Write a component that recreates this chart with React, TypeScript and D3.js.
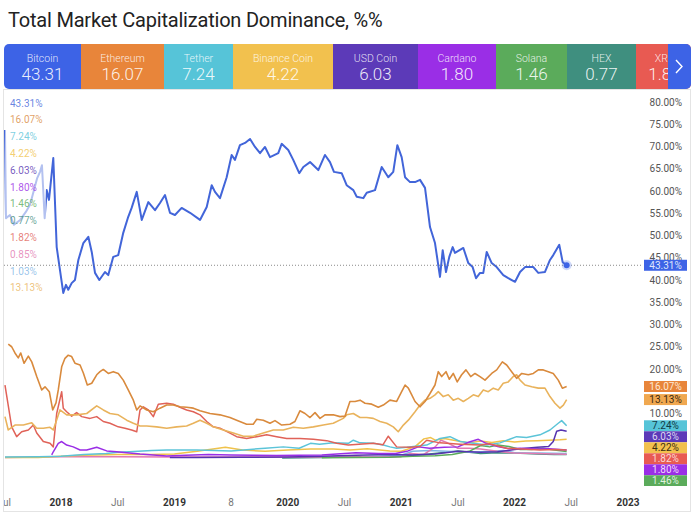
import React from 'react';
import * as d3 from 'd3';

type P = [number, number];

const titleText = 'Total Market Capitalization Dominance, %%';
const legendNames = ['Bitcoin', 'Ethereum', 'Tether', 'Binance Coin', 'USD Coin', 'Cardano', 'Solana', 'HEX', 'XRP'];
const legendValues = ['43.31', '16.07', '7.24', '4.22', '6.03', '1.80', '1.46', '0.77', '1.82'];
const legendColors = ['#3d63e6', '#e8853a', '#56c4d8', '#f2c14e', '#5c3ab8', '#9a2ee6', '#5bab5b', '#3f8f7f', '#e85a52'];

const xTickYears = [2017.5, 2018, 2018.5, 2019, 2019.5, 2020, 2020.5, 2021, 2021.5, 2022, 2022.5, 2023];
const xTickLabels = ['Jul', '2018', 'Jul', '2019', '8', '2020', 'Jul', '2021', 'Jul', '2022', 'Jul', '2023'];
const xTickBold = [false, true, false, true, false, true, false, true, false, true, false, true];
const yTicks = d3.range(0, 81, 5);

const btc: P[] = [
  [2017.506, 73.7], [2017.515, 53.9], [2017.55, 54.6], [2017.585, 52.4], [2017.64, 53.5], [2017.69, 55.3], [2017.727, 56.9],
  [2017.79, 62.9], [2017.815, 64.3], [2017.832, 65.8], [2017.856, 53.9], [2017.874, 60.2], [2017.894, 58.0], [2017.932, 67.4],
  [2017.962, 47.4], [2017.991, 42.2], [2018.02, 37.1], [2018.044, 38.9], [2018.064, 37.8], [2018.094, 39.3], [2018.123, 40.0],
  [2018.153, 44.5], [2018.197, 48.3], [2018.241, 49.7], [2018.271, 46.3], [2018.30, 41.6], [2018.338, 40.0], [2018.388, 41.8],
  [2018.417, 41.1], [2018.461, 45.2], [2018.505, 45.6], [2018.549, 50.6], [2018.593, 54.2], [2018.623, 56.2], [2018.668, 59.8],
  [2018.712, 53.5], [2018.77, 57.5], [2018.829, 55.7], [2018.873, 57.3], [2018.917, 59.1], [2018.961, 55.1], [2019.005, 54.6],
  [2019.064, 56.2], [2019.138, 55.1], [2019.226, 53.5], [2019.285, 56.4], [2019.329, 61.3], [2019.358, 59.8], [2019.402, 58.4],
  [2019.461, 63.1], [2019.505, 68.1], [2019.534, 67.0], [2019.578, 70.3], [2019.623, 70.8], [2019.667, 71.7], [2019.711, 69.9],
  [2019.755, 68.5], [2019.799, 69.9], [2019.843, 67.6], [2019.916, 68.5], [2019.946, 70.6], [2020.004, 69.2], [2020.048, 67.0],
  [2020.101, 64.0], [2020.137, 65.4], [2020.196, 66.5], [2020.269, 64.7], [2020.328, 68.1], [2020.372, 66.5], [2020.407, 64.3],
  [2020.475, 64.0], [2020.519, 61.3], [2020.578, 60.2], [2020.608, 58.7], [2020.666, 58.4], [2020.696, 59.6], [2020.769, 60.2],
  [2020.828, 65.4], [2020.886, 63.1], [2020.93, 64.3], [2020.966, 70.3], [2021.004, 67.6], [2021.034, 63.1], [2021.078, 62.0],
  [2021.122, 62.0], [2021.166, 62.5], [2021.21, 60.7], [2021.254, 51.9], [2021.298, 48.3], [2021.342, 40.7], [2021.366, 46.7],
  [2021.395, 41.8], [2021.424, 45.2], [2021.454, 47.4], [2021.474, 46.1], [2021.548, 47.2], [2021.592, 43.8], [2021.63, 42.9],
  [2021.66, 40.4], [2021.695, 41.6], [2021.724, 41.6], [2021.754, 46.3], [2021.798, 43.8], [2021.842, 42.9], [2021.9, 41.1],
  [2021.944, 40.4], [2022.004, 39.6], [2022.048, 41.8], [2022.092, 42.9], [2022.165, 42.9], [2022.209, 41.6], [2022.268, 41.8],
  [2022.312, 44.5], [2022.341, 45.6], [2022.394, 47.9], [2022.424, 44.0], [2022.459, 43.31],
];

const eth: P[] = [
  [2017.535, 25.6], [2017.565, 25.0], [2017.594, 23.6], [2017.623, 22.5], [2017.645, 23.6], [2017.674, 21.3], [2017.712, 22.9],
  [2017.742, 21.6], [2017.786, 18.3], [2017.83, 15.3], [2017.859, 16.0], [2017.897, 14.9], [2017.927, 10.8], [2017.956, 12.4],
  [2017.976, 15.3], [2018.006, 20.5], [2018.035, 22.4], [2018.064, 23.1], [2018.094, 22.8], [2018.123, 21.3], [2018.168, 20.9],
  [2018.197, 19.1], [2018.232, 16.4], [2018.271, 16.8], [2018.315, 18.7], [2018.344, 19.4], [2018.373, 19.9], [2018.417, 19.0],
  [2018.461, 19.4], [2018.505, 19.0], [2018.549, 17.5], [2018.593, 15.3], [2018.638, 13.0], [2018.668, 10.8], [2018.697, 11.7],
  [2018.756, 10.8], [2018.814, 10.4], [2018.873, 11.2], [2018.932, 11.9], [2018.99, 11.9], [2019.049, 11.5], [2019.108, 11.4],
  [2019.167, 11.2], [2019.226, 10.6], [2019.314, 10.0], [2019.402, 9.7], [2019.49, 9.1], [2019.549, 8.5], [2019.637, 7.6],
  [2019.695, 7.6], [2019.726, 8.7], [2019.784, 8.5], [2019.843, 7.8], [2019.887, 8.4], [2019.946, 7.4], [2020.019, 7.6],
  [2020.063, 8.2], [2020.107, 10.6], [2020.152, 10.0], [2020.196, 9.1], [2020.24, 10.2], [2020.284, 8.9], [2020.328, 9.7],
  [2020.401, 9.7], [2020.46, 9.3], [2020.504, 9.4], [2020.548, 12.7], [2020.593, 12.7], [2020.637, 13.0], [2020.681, 12.3],
  [2020.74, 12.1], [2020.798, 11.4], [2020.842, 11.9], [2020.901, 13.0], [2020.96, 12.7], [2021.004, 14.9], [2021.034, 16.4],
  [2021.063, 15.7], [2021.093, 14.2], [2021.122, 12.7], [2021.166, 11.5], [2021.21, 12.7], [2021.254, 14.5], [2021.298, 16.4],
  [2021.327, 19.4], [2021.357, 18.3], [2021.395, 19.4], [2021.424, 17.7], [2021.459, 19.0], [2021.494, 17.1], [2021.533, 18.7],
  [2021.571, 19.8], [2021.613, 18.3], [2021.651, 19.0], [2021.695, 18.3], [2021.739, 17.5], [2021.798, 19.0], [2021.842, 19.8],
  [2021.892, 21.6], [2021.93, 20.9], [2021.974, 19.4], [2022.018, 17.9], [2022.063, 19.0], [2022.121, 18.7], [2022.165, 19.0],
  [2022.209, 19.8], [2022.253, 19.8], [2022.297, 19.4], [2022.341, 19.0], [2022.385, 17.5], [2022.421, 15.7], [2022.459, 16.07],
];

const others: P[] = [
  [2017.506, 9.3], [2017.535, 6.3], [2017.594, 7.4], [2017.668, 7.4], [2017.742, 7.9], [2017.786, 6.7], [2017.844, 6.7],
  [2017.903, 6.9], [2017.932, 6.3], [2017.991, 10.8], [2018.05, 9.7], [2018.138, 9.7], [2018.227, 10.0], [2018.315, 11.7],
  [2018.373, 10.8], [2018.432, 10.0], [2018.505, 9.7], [2018.579, 8.5], [2018.638, 7.8], [2018.697, 7.2], [2018.756, 7.2],
  [2018.844, 7.0], [2018.932, 6.7], [2019.02, 7.0], [2019.108, 7.2], [2019.167, 7.8], [2019.226, 8.5], [2019.285, 7.8],
  [2019.343, 7.0], [2019.431, 6.3], [2019.52, 5.6], [2019.608, 4.9], [2019.695, 4.9], [2019.784, 5.6], [2019.872, 6.3],
  [2019.96, 6.3], [2020.048, 6.9], [2020.137, 6.7], [2020.225, 7.0], [2020.313, 7.4], [2020.401, 7.8], [2020.489, 8.9],
  [2020.519, 9.7], [2020.578, 10.0], [2020.637, 9.1], [2020.696, 9.1], [2020.754, 8.9], [2020.813, 8.2], [2020.872, 7.8],
  [2020.93, 7.0], [2020.974, 5.9], [2021.019, 7.4], [2021.063, 8.5], [2021.122, 10.4], [2021.166, 11.9], [2021.21, 13.0],
  [2021.254, 13.4], [2021.298, 14.2], [2021.327, 14.9], [2021.371, 13.8], [2021.415, 14.2], [2021.459, 13.0], [2021.503, 13.4],
  [2021.548, 12.7], [2021.592, 13.4], [2021.636, 14.2], [2021.68, 13.8], [2021.724, 15.3], [2021.768, 14.9], [2021.812, 15.7],
  [2021.856, 15.3], [2021.9, 16.8], [2021.944, 17.1], [2021.988, 18.3], [2022.018, 18.7], [2022.048, 17.5], [2022.092, 16.4],
  [2022.151, 16.0], [2022.209, 15.7], [2022.268, 15.7], [2022.312, 13.8], [2022.356, 12.3], [2022.4, 11.2], [2022.43, 11.9],
  [2022.459, 13.13],
];

const xrp: P[] = [
  [2017.506, 16.4], [2017.565, 7.0], [2017.609, 4.8], [2017.653, 5.9], [2017.712, 6.3], [2017.756, 7.4], [2017.786, 5.6],
  [2017.844, 3.7], [2017.903, 3.3], [2017.932, 2.5], [2017.962, 10.0], [2018.006, 14.9], [2018.02, 11.2], [2018.05, 10.4],
  [2018.094, 9.4], [2018.138, 10.2], [2018.183, 9.3], [2018.256, 8.9], [2018.315, 9.3], [2018.373, 8.2], [2018.432, 7.8],
  [2018.505, 7.0], [2018.564, 6.7], [2018.623, 6.3], [2018.668, 5.9], [2018.697, 10.8], [2018.726, 11.5], [2018.77, 10.8],
  [2018.814, 9.3], [2018.858, 12.1], [2018.932, 12.3], [2018.99, 12.1], [2019.049, 11.4], [2019.108, 10.8], [2019.167, 10.4],
  [2019.226, 9.7], [2019.285, 8.2], [2019.343, 7.0], [2019.402, 6.7], [2019.49, 5.6], [2019.549, 4.8], [2019.637, 4.4],
  [2019.726, 4.8], [2019.814, 5.2], [2019.902, 4.8], [2019.99, 4.4], [2020.107, 4.4], [2020.225, 4.2], [2020.343, 3.9],
  [2020.431, 3.3], [2020.534, 2.9], [2020.754, 3.3], [2020.84, 3.0], [2020.886, 4.9], [2020.96, 2.5], [2021.078, 2.4],
  [2021.166, 2.6], [2021.225, 4.0], [2021.342, 3.4], [2021.519, 3.1], [2021.695, 2.9], [2021.78, 3.2], [2021.93, 2.2],
  [2022.224, 1.8], [2022.356, 1.9], [2022.459, 1.82],
];

const ada: P[] = [
  [2017.918, 0.7], [2017.932, 1.4], [2017.976, 3.3], [2018.006, 3.7], [2018.05, 2.9], [2018.108, 2.5], [2018.168, 1.8],
  [2018.227, 1.8], [2018.315, 2.4], [2018.403, 1.6], [2018.491, 1.4], [2018.579, 1.2], [2018.697, 0.9], [2018.814, 0.7],
  [2018.932, 0.45], [2019.1, 0.6], [2019.3, 0.8], [2019.5, 0.7], [2019.7, 0.6], [2019.9, 0.55], [2020.1, 0.6], [2020.3, 0.7],
  [2020.5, 1.0], [2020.6, 1.2], [2020.8, 1.0], [2020.95, 1.0], [2021.05, 1.5], [2021.15, 2.5], [2021.25, 2.2], [2021.38, 2.4],
  [2021.5, 2.5], [2021.6, 3.6], [2021.68, 4.2], [2021.75, 3.3], [2021.85, 2.6], [2021.95, 2.1], [2022.05, 2.2], [2022.2, 2.0],
  [2022.3, 2.1], [2022.4, 1.9], [2022.459, 1.80],
];

const usdt: P[] = [
  [2017.506, 0.2], [2017.8, 0.3], [2018.0, 0.4], [2018.2, 0.8], [2018.4, 1.0], [2018.5, 1.3], [2018.6, 1.4], [2018.8, 1.7],
  [2018.932, 1.8], [2019.2, 1.8], [2019.5, 1.6], [2019.8, 2.2], [2019.96, 2.5], [2020.1, 2.2], [2020.2, 3.3], [2020.28, 3.1],
  [2020.4, 3.4], [2020.534, 3.3], [2020.578, 4.0], [2020.637, 3.4], [2020.754, 3.3], [2020.842, 2.9], [2020.901, 2.5],
  [2020.96, 2.2], [2021.05, 2.4], [2021.225, 2.9], [2021.342, 4.4], [2021.43, 4.8], [2021.519, 3.7], [2021.636, 3.3],
  [2021.754, 2.9], [2021.871, 3.4], [2022.018, 4.8], [2022.106, 4.6], [2022.224, 5.2], [2022.312, 6.3], [2022.385, 7.8],
  [2022.415, 8.4], [2022.459, 7.24],
];

const usdc: P[] = [
  [2018.96, 0.1], [2019.2, 0.1], [2019.6, 0.15], [2020.0, 0.2], [2020.3, 0.4], [2020.6, 0.6], [2020.9, 0.8], [2021.1, 0.7],
  [2021.3, 0.9], [2021.5, 1.5], [2021.7, 1.3], [2021.85, 1.4], [2022.0, 1.9], [2022.1, 2.2], [2022.2, 2.4], [2022.3, 2.6],
  [2022.341, 3.7], [2022.371, 6.0], [2022.41, 6.3], [2022.459, 6.03],
];

const bnb: P[] = [
  [2017.506, 0.1], [2017.8, 0.1], [2018.0, 0.4], [2018.2, 0.6], [2018.5, 0.8], [2018.8, 0.8], [2019.0, 0.9], [2019.2, 1.5],
  [2019.45, 2.4], [2019.6, 1.8], [2019.8, 1.5], [2020.0, 1.8], [2020.2, 2.0], [2020.4, 2.0], [2020.55, 1.8], [2020.7, 2.1],
  [2020.9, 1.6], [2021.0, 1.5], [2021.12, 2.5], [2021.2, 4.3], [2021.26, 4.6], [2021.3, 4.0], [2021.38, 4.4], [2021.5, 3.8],
  [2021.6, 3.4], [2021.7, 3.8], [2021.8, 3.5], [2021.9, 3.9], [2022.0, 3.6], [2022.1, 3.8], [2022.2, 3.9], [2022.3, 4.0],
  [2022.4, 4.1], [2022.459, 4.22],
];

const sol: P[] = [
  [2020.3, 0.05], [2020.6, 0.1], [2020.9, 0.15], [2021.1, 0.4], [2021.3, 0.5], [2021.45, 0.8], [2021.6, 1.5], [2021.7, 2.8],
  [2021.78, 2.5], [2021.85, 2.9], [2021.95, 2.6], [2022.05, 1.9], [2022.15, 1.9], [2022.25, 2.2], [2022.35, 1.8], [2022.459, 1.46],
];

const hex: P[] = [
  [2019.95, 0.02], [2020.3, 0.1], [2020.6, 0.3], [2020.9, 0.3], [2021.1, 0.6], [2021.25, 0.9], [2021.4, 1.3], [2021.5, 1.6],
  [2021.6, 1.3], [2021.7, 1.0], [2021.85, 1.2], [2022.0, 1.1], [2022.2, 0.9], [2022.35, 0.8], [2022.459, 0.77],
];

const doge: P[] = [
  [2017.506, 0.1], [2018.0, 0.3], [2018.5, 0.3], [2019.0, 0.25], [2020.0, 0.2], [2021.0, 0.3], [2021.08, 1.0], [2021.2, 0.8],
  [2021.3, 2.5], [2021.35, 4.0], [2021.4, 3.5], [2021.5, 2.2], [2021.6, 2.2], [2021.7, 2.0], [2021.85, 1.5], [2022.0, 1.1],
  [2022.2, 1.0], [2022.35, 0.9], [2022.459, 0.85],
];

const busd: P[] = [
  [2020.65, 0.3], [2020.8, 0.4], [2021.0, 0.6], [2021.1, 1.5], [2021.25, 1.7], [2021.4, 1.5], [2021.6, 1.3], [2021.8, 1.5],
  [2021.9, 1.7], [2022.0, 1.2], [2022.2, 1.1], [2022.459, 1.03],
];

interface Series { key: string; data: P[]; color: string; last: string; width: number; badgeBg?: string; badgeText?: string; }

const series: Series[] = [
  { key: 'btc', data: btc, color: '#4265d9', last: '43.31', width: 2 },
  { key: 'eth', data: eth, color: '#d98a3d', last: '16.07', width: 1.6, badgeBg: '#e8853a', badgeText: '#fde8d4' },
  { key: 'usdt', data: usdt, color: '#5cc4d8', last: '7.24', width: 1.5, badgeBg: '#56c4d8', badgeText: '#123a44' },
  { key: 'bnb', data: bnb, color: '#f0c24a', last: '4.22', width: 1.5, badgeBg: '#f2c14e', badgeText: '#3a2e10' },
  { key: 'usdc', data: usdc, color: '#5533b0', last: '6.03', width: 1.5, badgeBg: '#5c3ab8', badgeText: '#ddd6f2' },
  { key: 'ada', data: ada, color: '#9a2ee6', last: '1.80', width: 1.5, badgeBg: '#9a2ee6', badgeText: '#f0dcfb' },
  { key: 'sol', data: sol, color: '#5bab5b', last: '1.46', width: 1.5, badgeBg: '#5bab5b', badgeText: '#dff2df' },
  { key: 'hex', data: hex, color: '#3f8f7f', last: '0.77', width: 1.5 },
  { key: 'xrp', data: xrp, color: '#e06258', last: '1.82', width: 1.5, badgeBg: '#e85a52', badgeText: '#fbd9d6' },
  { key: 'doge', data: doge, color: '#e27ab0', last: '0.85', width: 1.5 },
  { key: 'busd', data: busd, color: '#7fb6e6', last: '1.03', width: 1.5 },
  { key: 'others', data: others, color: '#e9b35c', last: '13.13', width: 1.6, badgeBg: '#f0a850', badgeText: '#3a2a10' },
];

const legendWidths = [77, 83, 69, 100, 85, 78, 71, 69, 57];
const FONT = 'Roboto, "Noto Sans", sans-serif';

export default function App() {
  const W = 700, H = 520;
  const plotL = 4, plotR = 643, plotT = 90, plotB = 486;
  const x = d3.scaleLinear().domain([2018, 2023]).range([61, 628]);
  const y = d3.scaleLinear().domain([0, 80]).range([458, 102]);
  const line = d3.line<P>().x(d => x(d[0])).y(d => y(d[1]));

  const drawOrder = ['hex', 'busd', 'doge', 'sol', 'bnb', 'usdt', 'usdc', 'ada', 'xrp', 'others', 'eth', 'btc'];
  const byKey: Record<string, Series> = {};
  series.forEach(s => (byKey[s.key] = s));

  let cx = 4;
  const legendBoxes = legendNames.map((n, i) => {
    const b = { x0: cx, w: legendWidths[i], name: n, value: legendValues[i], color: legendColors[i] };
    cx += legendWidths[i];
    return b;
  });

  const badgeSeries = series.filter(s => s.badgeBg).sort((a, b) => +b.last - +a.last);
  const bh = 11;
  let prev = -Infinity;
  const badges = badgeSeries.map(s => {
    const c = Math.max(y(+s.last), prev + bh);
    prev = c;
    return { s, c };
  });
  const btcLast = btc[btc.length - 1];
  const allBadges = [{ c: y(btcLast[1]) }, ...badges];
  // price-scale labels that lie fully under a badge are hidden, as in the reference
  const visibleTicks = yTicks.filter(t => !allBadges.some(b => Math.abs(b.c - y(t)) < 6));

  return (
    <svg width={W} height={H} style={{ position: 'absolute', left: 0, top: 0, background: '#fff' }} fontFamily={FONT}>
      <defs>
        <clipPath id="plotClip"><rect x={plotL} y={plotT} width={plotR - plotL} height={plotB - plotT} /></clipPath>
        <clipPath id="axisClip"><rect x={plotL} y={488} width={plotR - plotL} height={22} /></clipPath>
        <clipPath id="legendClip"><rect x={4} y={44} width={687} height={45} rx={5} /></clipPath>
        <clipPath id="badgeClip"><rect x={600} y={plotT} width={100} height={plotB - plotT} /></clipPath>
      </defs>
      <text x={8} y={27} fontSize={20} letterSpacing={-0.2} fill="#222" fontFamily={FONT}>{titleText}</text>

      <g clipPath="url(#legendClip)">
        {legendBoxes.map((b, i) => (
          <g key={i}>
            <rect x={b.x0} y={44} width={b.w + 1} height={45} fill={b.color} />
            <text x={b.x0 + b.w / 2} y={62} textAnchor="middle" fontSize={10.5} fontWeight={300} fill="#fff" fillOpacity={0.85}>{b.name}</text>
            <text x={b.x0 + b.w / 2} y={80} textAnchor="middle" fontSize={17} fontWeight={300} fill="#fff" fillOpacity={0.9}>{b.value}</text>
          </g>
        ))}
        <rect x={668} y={44} width={24} height={45} fill="#3d63e6" />
        <path d="M676,60 L682,66.5 L676,73" fill="none" stroke="#fff" strokeWidth={1.4} />
      </g>

      <rect x={3.5} y={89.5} width={687} height={422} fill="none" stroke="#e4e4e4" />

      <g clipPath="url(#plotClip)">
        {drawOrder.map(k => (
          <path key={k} d={line(byKey[k].data) || ''} fill="none" stroke={byKey[k].color}
            strokeWidth={byKey[k].width} strokeLinejoin="round" />
        ))}
      </g>

      <rect x={5} y={94} width={41} height={201} fill="#fff" fillOpacity={0.6} />
      {series.map((s, i) => (
        <text key={s.key} x={10} y={103 + i * 16.8} dy="0.35em" fontSize={10} fill={s.color} fillOpacity={0.8}>{s.last}%</text>
      ))}

      <line x1={plotL} x2={plotR} y1={y(btcLast[1])} y2={y(btcLast[1])} stroke="#8a8a8a" strokeWidth={1} strokeDasharray="1,2" />
      <circle cx={x(btcLast[0])} cy={y(btcLast[1])} r={5} fill="#3d63e6" fillOpacity={0.25} />
      <circle cx={x(btcLast[0])} cy={y(btcLast[1])} r={3} fill="#3d63e6" />

      {visibleTicks.map(t => (
        <text key={t} x={682} y={y(t)} dy="0.35em" textAnchor="end" fontSize={10} fill="#555">{t.toFixed(2)}%</text>
      ))}
      <rect x={644} y={y(btcLast[1]) - 5.5} width={43} height={11} fill="#3d63e6" />
      <text x={665.5} y={y(btcLast[1])} dy="0.35em" textAnchor="middle" fontSize={10} fill="#dfe6fb">43.31%</text>
      <g clipPath="url(#badgeClip)">
        {badges.map(({ s, c }) => (
          <g key={s.key}>
            <rect x={644} y={c - bh / 2} width={43} height={bh} fill={s.badgeBg} />
            <text x={665.5} y={c} dy="0.35em" textAnchor="middle" fontSize={10} fill={s.badgeText}>{s.last}%</text>
          </g>
        ))}
      </g>

      <g clipPath="url(#axisClip)">
        {xTickYears.map((t, i) => (
          <text key={i} x={x(t)} y={502} dy="0.35em" textAnchor="middle" fontSize={10}
            fontWeight={xTickBold[i] ? 700 : 400} fill={xTickBold[i] ? '#333' : '#777'}>{xTickLabels[i]}</text>
        ))}
      </g>
    </svg>
  );
}
